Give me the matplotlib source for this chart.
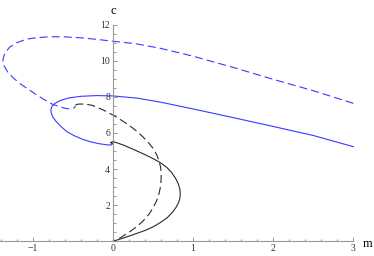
import matplotlib
matplotlib.use("Agg")
import matplotlib.pyplot as plt
from matplotlib.ticker import MultipleLocator

plt.rcParams['font.family'] = ['Liberation Serif', 'DejaVu Serif']
plt.rcParams['lines.scale_dashes'] = False

# blue dashed curve (from right end round the big loop)
bd_m = [3.0, 2.5, 2.0, 1.5, 1.0, 0.6, 0.3, 0.0, -0.2, -0.4, -0.6, -0.78, -0.95, -1.08,
        -1.2, -1.29, -1.35, -1.375, -1.36, -1.31, -1.24, -1.15, -1.05, -0.95, -0.86,
        -0.76, -0.66, -0.58, -0.52, -0.48, -0.47]
bd_c = [7.64, 8.34, 8.97, 9.63, 10.25, 10.68, 10.93, 11.08, 11.18, 11.27, 11.32, 11.33, 11.28, 11.19,
        11.0, 10.75, 10.42, 10.05, 9.72, 9.35, 9.03, 8.7, 8.4, 8.1, 7.85,
        7.6, 7.44, 7.35, 7.33, 7.4, 7.5]

# blue solid curve
bs_m = [3.0, 2.5, 2.0, 1.5, 1.0, 0.6, 0.3, 0.0, -0.2, -0.4, -0.55, -0.65, -0.72, -0.76,
        -0.775, -0.77, -0.75, -0.71, -0.65, -0.575, -0.48, -0.38, -0.28, -0.18, -0.09,
        -0.03, -0.01, -0.02]
bs_c = [5.24, 5.86, 6.36, 6.85, 7.33, 7.7, 7.93, 8.05, 8.07, 8.03, 7.94, 7.81, 7.65, 7.48,
        7.3, 7.1, 6.88, 6.64, 6.36, 6.07, 5.84, 5.65, 5.51, 5.41, 5.35,
        5.33, 5.36, 5.41]

# black dashed curve
kd_m = [-0.47, -0.43, -0.35, -0.26, -0.12, 0.0, 0.1, 0.2, 0.29, 0.37, 0.44, 0.5, 0.545,
        0.575, 0.595, 0.602, 0.6, 0.59, 0.57, 0.54, 0.5, 0.45, 0.38, 0.3, 0.2, 0.1, 0.0]
kd_c = [7.55, 7.6, 7.6, 7.53, 7.27, 6.99, 6.72, 6.43, 6.12, 5.8, 5.48, 5.15, 4.8,
        4.45, 4.1, 3.7, 3.35, 2.95, 2.55, 2.2, 1.85, 1.5, 1.15, 0.82, 0.5, 0.22, 0.0]

# black solid curve
ks_m = [0.0, -0.03, 0.0, 0.13, 0.26, 0.4, 0.5, 0.59, 0.67, 0.73, 0.78, 0.815, 0.835,
        0.84, 0.835, 0.82, 0.79, 0.745, 0.68, 0.6, 0.5, 0.4, 0.28, 0.15, 0.0]
ks_c = [5.42, 5.47, 5.53, 5.33, 5.08, 4.8, 4.58, 4.36, 4.1, 3.82, 3.5, 3.18, 2.9,
        2.62, 2.38, 2.15, 1.9, 1.62, 1.32, 1.06, 0.8, 0.6, 0.41, 0.21, 0.0]

x_ticks = [-1, 0, 1, 2, 3]
y_ticks = [2, 4, 6, 8, 10, 12]

fig = plt.figure(figsize=(3.74, 2.56), dpi=100)
ax = fig.add_axes([0.0, 0.0574, 0.9447, 0.85])

blue = '#3a3aff'
dark = '#2a2a2a'
ax.plot(bd_m, bd_c, color=blue, lw=0.8, dashes=(5.8, 2.9), clip_on=False)
ax.plot(bs_m, bs_c, color=blue, lw=0.8, clip_on=False)
ax.plot(kd_m, kd_c, color=dark, lw=0.8, dashes=(5.8, 2.9), clip_on=False)
ax.plot(ks_m, ks_c, color=dark, lw=0.8, clip_on=False)

ax.set_xlim(-1.41, 3.0)
ax.set_ylim(0, 12.05)

# axes through the origin
for s in ['top', 'right']:
    ax.spines[s].set_visible(False)
ax.spines['left'].set_position(('data', 0))
ax.spines['bottom'].set_position(('data', 0))
ax.spines['left'].set_bounds(0, 12)
for s in ['left', 'bottom']:
    ax.spines[s].set_color('#999999')
    ax.spines[s].set_linewidth(0.8)

ax.set_xticks(x_ticks)
ax.set_yticks(y_ticks)
ax.xaxis.set_minor_locator(MultipleLocator(0.2))
ax.yaxis.set_minor_locator(MultipleLocator(0.5))
ax.tick_params(which='both', direction='in', color='#999999', width=0.7,
               labelsize=7, labelcolor='#333333', pad=2)
ax.tick_params(which='major', length=3)
ax.tick_params(which='minor', length=1.8)

ax.text(0, 12.75, 'c', ha='center', va='center', fontsize=9, clip_on=False)
ax.text(3.18, -0.15, 'm', ha='center', va='center', fontsize=9, clip_on=False)

fig.savefig('out.png', dpi=100)
